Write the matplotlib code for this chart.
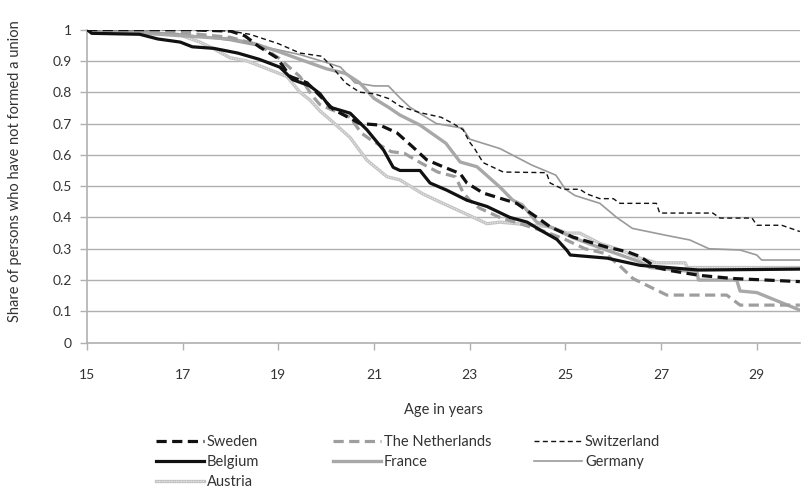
import numpy as np
import matplotlib
matplotlib.use("Agg")
import matplotlib.pyplot as plt
from matplotlib.legend_handler import HandlerTuple

plt.rcParams['font.family'] = ['Lato', 'DejaVu Sans']

# survival curves: (age, share)
sweden_x = [15, 17.0, 18.0, 18.3, 18.6, 18.97, 19.25, 19.6, 20.15, 20.7, 21.12, 21.48, 21.81,
            22.1, 22.44, 22.8, 22.94, 23.28, 23.98, 24.5, 24.68, 25.16, 25.87, 26.3,
            26.56, 26.9, 27.2, 27.8, 28.5, 29.9]
sweden_y = [1.0, 1.0, 0.995, 0.98, 0.945, 0.91, 0.85, 0.83, 0.745, 0.70, 0.695, 0.67, 0.625,
            0.584, 0.562, 0.54, 0.51, 0.478, 0.445, 0.39, 0.37, 0.337, 0.305, 0.29,
            0.275, 0.24, 0.23, 0.215, 0.205, 0.195]

nl_x = [15, 16, 17, 18, 18.6, 19.0, 19.45, 19.7, 19.87, 20.1, 20.5, 20.73, 20.94, 21.36,
        21.63, 21.99, 22.33, 22.7, 22.86, 23.0, 23.2, 23.63, 24.05, 24.57, 24.99, 25.41,
        25.83, 26.14, 26.41, 26.77, 27.12, 28.37, 28.65, 29.9]
nl_y = [1.0, 0.995, 0.99, 0.975, 0.95, 0.91, 0.85, 0.79, 0.76, 0.745, 0.72, 0.67, 0.647, 0.61,
        0.605, 0.573, 0.545, 0.53, 0.48, 0.455, 0.43, 0.40, 0.38, 0.355, 0.33, 0.30,
        0.285, 0.245, 0.205, 0.178, 0.152, 0.152, 0.12, 0.12]

swiss_x = [15, 17, 18, 18.4, 19.0, 19.45, 19.9, 20.1, 20.4, 20.7, 21.0, 21.3, 21.55, 21.95,
           22.4, 22.65, 22.86, 23.0, 23.1, 23.28, 23.7, 24.6, 24.68, 24.95, 25.3, 25.45,
           25.72, 26.0, 26.14, 26.9, 26.97, 28.08, 28.23, 28.9, 29.0, 29.52, 29.9]
swiss_y = [1.0, 1.0, 0.995, 0.985, 0.955, 0.925, 0.915, 0.885, 0.83, 0.80, 0.795, 0.78, 0.755,
           0.735, 0.72, 0.70, 0.68, 0.64, 0.62, 0.575, 0.545, 0.543, 0.51, 0.49, 0.49, 0.475,
           0.46, 0.46, 0.445, 0.445, 0.414, 0.414, 0.398, 0.398, 0.375, 0.375, 0.355]

belgium_x = [15, 15.1, 16.1, 16.48, 16.95, 17.2, 17.65, 18.15, 18.6, 19.03, 19.3, 19.66,
             19.87, 20.08, 20.5, 20.85, 21.2, 21.4, 21.54, 21.96, 22.17, 22.52, 22.94,
             23.36, 23.84, 24.2, 24.47, 24.82, 25.03, 25.1, 25.87, 26.56, 27.79, 29.9]
belgium_y = [1.0, 0.988, 0.985, 0.97, 0.96, 0.945, 0.94, 0.925, 0.905, 0.88, 0.84, 0.82,
             0.795, 0.752, 0.733, 0.68, 0.615, 0.56, 0.55, 0.55, 0.51, 0.487, 0.455,
             0.435, 0.40, 0.385, 0.36, 0.33, 0.295, 0.28, 0.27, 0.247, 0.232, 0.235]

france_x = [15, 16, 17, 18, 18.5, 19.0, 19.45, 20.0, 20.4, 20.7, 21.0, 21.3, 21.54, 21.96,
            22.5, 22.8, 23.15, 23.63, 23.9, 24.1, 24.4, 24.68, 25.16, 25.87, 26.56, 26.77,
            27.75, 27.78, 28.58, 28.65, 29.0, 29.9]
france_y = [1.0, 0.99, 0.98, 0.97, 0.955, 0.93, 0.905, 0.875, 0.86, 0.83, 0.78, 0.752, 0.727,
            0.695, 0.637, 0.577, 0.562, 0.497, 0.455, 0.44, 0.385, 0.37, 0.335, 0.295, 0.258,
            0.24, 0.226, 0.20, 0.20, 0.165, 0.16, 0.104]

germany_x = [15, 16, 17, 18, 18.5, 19.0, 19.45, 20.0, 20.3, 20.6, 21.0, 21.3, 21.54, 21.75,
             22.3, 22.85, 23.0, 23.63, 24.3, 24.8, 25.0, 25.2, 25.72, 26.07, 26.4, 27.1,
             27.6, 28.0, 28.65, 29.0, 29.1, 29.9]
germany_y = [1.0, 0.995, 0.985, 0.965, 0.95, 0.935, 0.92, 0.895, 0.88, 0.83, 0.82, 0.82,
             0.782, 0.752, 0.70, 0.685, 0.65, 0.62, 0.567, 0.535, 0.49, 0.47, 0.445, 0.40,
             0.365, 0.343, 0.328, 0.30, 0.296, 0.28, 0.264, 0.264]

austria_x = [15, 16.1, 16.9, 17.36, 17.63, 17.99, 18.34, 18.68, 19.18, 19.45, 19.66, 19.87,
             20.1, 20.5, 20.85, 21.27, 21.54, 22.02, 22.44, 22.94, 23.36, 23.63, 24.32,
             24.68, 25.03, 25.3, 25.72, 26.07, 26.56, 26.9, 27.5, 27.55, 29.9]
austria_y = [1.0, 0.99, 0.985, 0.96, 0.94, 0.91, 0.90, 0.88, 0.85, 0.80, 0.775, 0.74,
             0.71, 0.655, 0.583, 0.53, 0.52, 0.475, 0.445, 0.41, 0.38, 0.385, 0.375,
             0.37, 0.35, 0.35, 0.317, 0.30, 0.27, 0.255, 0.255, 0.24, 0.24]

x_ticks = [15, 17, 19, 21, 23, 25, 27, 29]
y_ticks = [0, 0.1, 0.2, 0.3, 0.4, 0.5, 0.6, 0.7, 0.8, 0.9, 1]
y_labels = ['0', '0.1', '0.2', '0.3', '0.4', '0.5', '0.6', '0.7', '0.8', '0.9', '1']

fig = plt.figure(figsize=(8.01, 4.97), dpi=100)
ax = fig.add_axes([0.1086, 0.3105, 0.890, 0.630])

grid_col = '#b0b0b0'
text_col = '#333333'

l_aus, = ax.plot(austria_x, austria_y, color='#c4c4c4', lw=2.4, zorder=3)
l_aus2, = ax.plot(austria_x, austria_y, color='#ececec', lw=0.8, ls=(0, (1, 1.2)), zorder=3)
l_ger, = ax.plot(germany_x, germany_y, color='#9a9a9a', lw=1.2, zorder=3)
l_fra, = ax.plot(france_x, france_y, color='#a8a8a8', lw=2.4, zorder=4)
l_nl, = ax.plot(nl_x, nl_y, color='#9e9e9e', lw=2.3, ls=(0, (3.2, 1.7)), zorder=4)
l_swi, = ax.plot(swiss_x, swiss_y, color='#111111', lw=1.0, ls=(0, (3.6, 2.4)), zorder=5)
l_bel, = ax.plot(belgium_x, belgium_y, color='#111111', lw=2.3, zorder=5)
l_swe, = ax.plot(sweden_x, sweden_y, color='#111111', lw=2.3, ls=(0, (3.2, 1.7)), zorder=6)

ax.set_xlim(15, 29.9)
ax.set_ylim(0, 1)
ax.set_xticks(x_ticks)
ax.set_yticks(y_ticks)
ax.set_yticklabels(y_labels)
ax.yaxis.grid(True, color=grid_col, lw=1.0)
ax.set_axisbelow(True)
for s in ['top', 'right']:
    ax.spines[s].set_visible(False)
for s in ['left', 'bottom']:
    ax.spines[s].set_color(grid_col)
    ax.spines[s].set_linewidth(1.2)
ax.tick_params(axis='x', colors=grid_col, length=5, width=1, labelcolor=text_col,
               labelsize=10, pad=14)
ax.tick_params(axis='y', colors=grid_col, length=5, width=1, labelcolor=text_col,
               labelsize=10, pad=6)

ax.set_xlabel('Age in years', fontsize=10.5, color=text_col, labelpad=16)
fig.text(0.019, 0.655, 'Share of persons who have not formed a union', rotation=90,
         fontsize=10.5, color=text_col, ha='center', va='center')

leg_kw = dict(loc='upper left', frameon=False, fontsize=10.5, handlelength=3.3,
              handletextpad=0.2, labelspacing=0.42, borderpad=0, borderaxespad=0,
              labelcolor=text_col, handler_map={tuple: HandlerTuple(ndivide=1, pad=0)})
top = 1 - 435 / 497
fig.legend([l_swe, l_bel, (l_aus, l_aus2)], ['Sweden', 'Belgium', 'Austria'],
           bbox_to_anchor=(156 / 801, top), **leg_kw)
fig.legend([l_nl, l_fra], ['The Netherlands', 'France'],
           bbox_to_anchor=(333 / 801, top), **leg_kw)
fig.legend([l_swi, l_ger], ['Switzerland', 'Germany'],
           bbox_to_anchor=(534 / 801, top), **leg_kw)

fig.savefig('out.png', dpi=100)
